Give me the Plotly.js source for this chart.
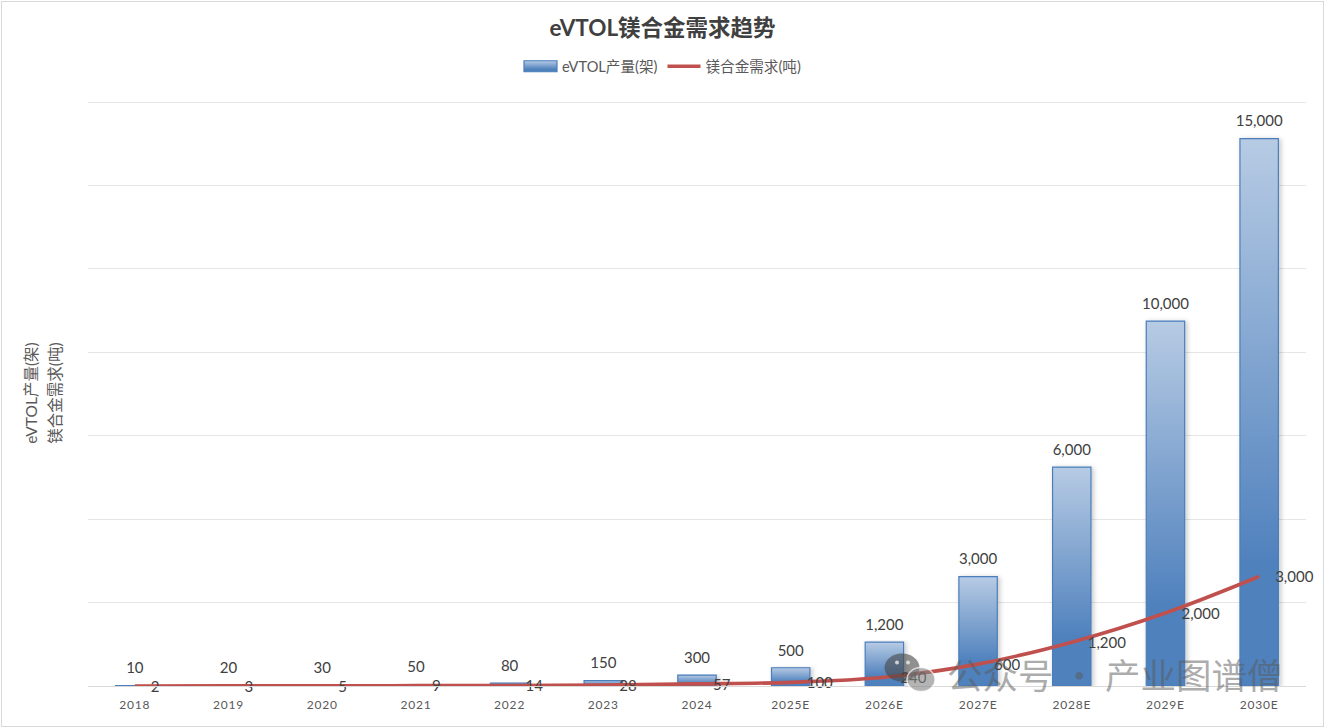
<!DOCTYPE html>
<html><head><meta charset="utf-8">
<script src="https://cdn.plot.ly/plotly-3.0.1.min.js"></script>
<style>html,body{margin:0;padding:0;background:#fff}#frame{position:absolute;left:1px;top:1px;width:1321px;height:724px;border:1px solid #d9d9d9;pointer-events:none}</style>
</head><body><div id="chart" style="width:1325px;height:728px"></div><div id="frame"></div>
<script>
var FONT='Lato, "Noto Sans CJK SC", sans-serif';
var categories=['2018','2019','2020','2021','2022','2023','2024','2025E','2026E','2027E','2028E','2029E','2030E'];
var production=[10,20,30,50,80,150,300,500,1200,3000,6000,10000,15000];
var demand=[2,3,5,9,14,28,57,100,240,600,1200,2000,3000];
var gridValues=[0,2286,4571,6857,9143,11429,13714,16000];
var fmt=function(v){return v.toLocaleString('en-US')};
var traces=[
 {type:'bar',name:'eVTOL产量(架)',x:categories,y:production,width:0.41,
  marker:{color:'#6f9bcb',line:{color:'#4a7ebb',width:1.2}},hoverinfo:'x+y'},
 {type:'scatter',mode:'lines+markers+text',name:'镁合金需求(吨)',x:categories,y:demand,cliponaxis:false,
  line:{color:'#c0504d',width:3.6,shape:'spline',smoothing:1},
  marker:{size:24,color:'rgba(0,0,0,0)'},
  text:demand.map(fmt),textposition:'middle right',textfont:{family:FONT,size:15,color:'#404040'},hoverinfo:'x+y'},
 {type:'scatter',mode:'markers+text',showlegend:false,x:categories,y:production,cliponaxis:false,
  marker:{size:12,color:'rgba(0,0,0,0)'},
  text:production.map(fmt),textposition:'top center',textfont:{family:FONT,size:15,color:'#404040'},hoverinfo:'skip'}
];
var PL=88,PW=1218,PT=99.8,PH=586.7;
function px(x){return (x-PL)/PW}
function py(y){return (PT+PH-y)/PH}
function oval(cx,cy,rx,ry,fill,line){return {type:'circle',xref:'paper',yref:'paper',x0:px(cx-rx),x1:px(cx+rx),y0:py(cy+ry),y1:py(cy-ry),fillcolor:fill,line:{width:line?1.5:0,color:line||'rgba(0,0,0,0)'},layer:'above'}}
var layout={
 width:1325,height:728,paper_bgcolor:'#fff',plot_bgcolor:'#fff',
 margin:{l:PL,r:19,t:PT,b:41.5},showlegend:true,
 title:{text:'<b>eVTOL镁合金需求趋势</b>',x:0.5,xanchor:'center',y:0.962,yanchor:'middle',font:{family:FONT,size:22.5,color:'#404040'}},
 legend:{orientation:'h',x:px(662.5),xanchor:'center',y:py(66),yanchor:'middle',font:{family:FONT,size:14.6,color:'#595959'},traceorder:'normal',itemwidth:33,bgcolor:'rgba(0,0,0,0)'},
 xaxis:{type:'category',categoryarray:categories,range:[-0.5,12.5],showgrid:false,showline:true,linecolor:'#d9d9d9',linewidth:1,ticks:'outside',ticklen:8,tickcolor:'rgba(0,0,0,0)',tickfont:{family:FONT,size:12,color:'#595959'},fixedrange:true},
 yaxis:{range:[0,16060],tickmode:'array',tickvals:gridValues,showticklabels:false,gridcolor:'#e6e6e6',gridwidth:1,zeroline:false,fixedrange:true,
   title:{text:'eVTOL产量(架)<br>镁合金需求(吨)',standoff:25,font:{family:FONT,size:15.5,color:'#595959'}}},
 annotations:[{xref:'paper',yref:'paper',x:px(1114),y:py(674),xanchor:'center',yanchor:'middle',text:'公众号 · 产业图谱僧',showarrow:false,
   font:{family:'"Noto Sans CJK SC",sans-serif',size:35.5,color:'rgba(90,90,90,0.5)'}}],
 shapes:[oval(902,668,17.5,14,'rgba(70,70,70,0.6)'),oval(897,663,2,2,'rgba(235,235,235,0.8)'),oval(908,663,2,2,'rgba(235,235,235,0.8)'),
   oval(921,680,14,12,'rgba(130,130,130,0.6)','rgba(255,255,255,0.7)')]
};
Plotly.newPlot('chart',traces,layout,{displayModeBar:false}).then(function(gd){
 var svg=gd.querySelector('svg.main-svg');
 var ns='http://www.w3.org/2000/svg';
 var defs=document.createElementNS(ns,'defs');
 defs.innerHTML='<linearGradient id="barGrad" x1="0" y1="0" x2="0" y2="1"><stop offset="0" stop-color="#b7cbe4"/><stop offset="0.78" stop-color="#4f81bd"/><stop offset="1" stop-color="#4f81bd"/></linearGradient>'+
 '<filter id="barShadow" x="-30%" y="-5%" width="160%" height="110%"><feDropShadow dx="2" dy="1" stdDeviation="2.5" flood-color="#000" flood-opacity="0.22"/></filter>';
 svg.insertBefore(defs,svg.firstChild);
 gd.querySelectorAll('.barlayer .point path').forEach(function(p){p.style.fill='url(#barGrad)';p.setAttribute('filter','url(#barShadow)');});
 var sw=gd.querySelector('.legend .legendbar')||gd.querySelector('.legend .legendpoints path');
 if(sw){sw.setAttribute('d','M-16.5,5.5H16.5V-5.5H-16.5Z');sw.style.fill='url(#barGrad)';}
 gd.querySelectorAll('.xtick text').forEach(function(t){t.style.letterSpacing='0.8px';});
 var lineTrace=gd.querySelectorAll('.scatterlayer .trace')[0];
 if(lineTrace){lineTrace.querySelectorAll('.textpoint').forEach(function(t){t.setAttribute('transform',(t.getAttribute('transform')||'')+' translate(0,2)');});}
 var ls=gd.querySelectorAll('.ytitle tspan.line');
 if(ls.length>1){ls[1].setAttribute('y',parseFloat(ls[1].getAttribute('y'))+4);}
});
</script></body></html>
